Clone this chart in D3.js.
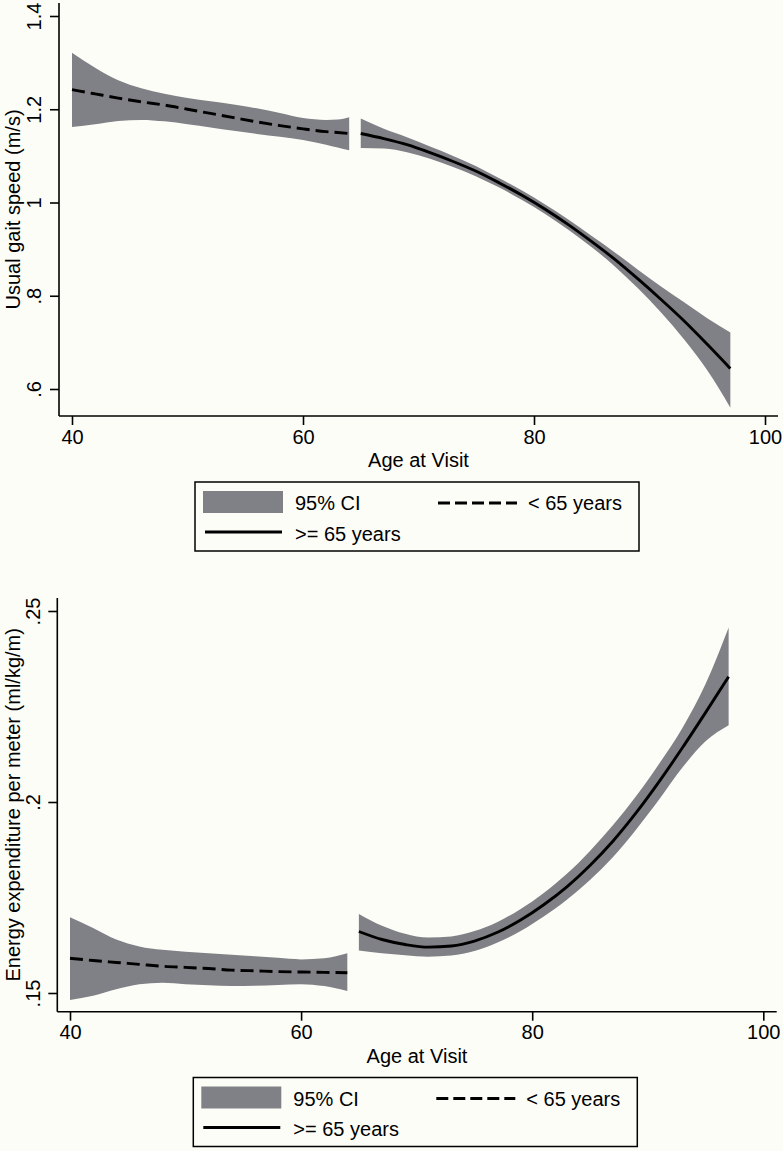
<!DOCTYPE html>
<html>
<head>
<meta charset="utf-8">
<script src="https://cdn.jsdelivr.net/npm/d3@7"></script>
<style>
  html, body { margin: 0; padding: 0; background: #fdfdf8; }
  svg { display: block; }
  text { font-family: "Liberation Sans", Arial, Helvetica, sans-serif; fill: #000; }
</style>
</head>
<body>
<svg id="chart" width="783" height="1151"></svg>
<script>
// ---------- Data ----------
const xTicks = [40, 60, 80, 100];
const xTickLabels = ["40", "60", "80", "100"];
const xTitle = "Age at Visit";

// Panel 1: usual gait speed
const gaitTitle = "Usual gait speed (m/s)";
const gaitYTicks = [0.6, 0.8, 1.0, 1.2, 1.4];
const gaitYTickLabels = [".6", ".8", "1", "1.2", "1.4"];

const gaitYoungAge   = [40, 42, 44, 46, 48, 50, 52, 54, 56, 58, 60, 62, 63, 64];
const gaitYoungFit   = [1.242, 1.233, 1.224, 1.216, 1.209, 1.200, 1.191, 1.182, 1.173, 1.165, 1.158, 1.152, 1.150, 1.148];
const gaitYoungUpper = [1.321, 1.289, 1.262, 1.245, 1.233, 1.224, 1.217, 1.210, 1.202, 1.192, 1.181, 1.177, 1.178, 1.183];
const gaitYoungLower = [1.162, 1.168, 1.175, 1.177, 1.174, 1.168, 1.161, 1.154, 1.147, 1.141, 1.134, 1.124, 1.118, 1.112];

const gaitOldAge   = [65, 67, 69, 71, 73, 75, 77, 79, 81, 83, 85, 87, 89, 91, 93, 95, 97];
const gaitOldFit   = [1.148, 1.137, 1.124, 1.107, 1.088, 1.067, 1.042, 1.015, 0.985, 0.952, 0.916, 0.878, 0.836, 0.792, 0.746, 0.696, 0.644];
const gaitOldUpper = [1.180, 1.158, 1.140, 1.120, 1.100, 1.078, 1.052, 1.025, 0.995, 0.963, 0.928, 0.893, 0.856, 0.820, 0.786, 0.752, 0.721];
const gaitOldLower = [1.117, 1.116, 1.108, 1.094, 1.076, 1.056, 1.032, 1.005, 0.975, 0.941, 0.904, 0.863, 0.816, 0.764, 0.706, 0.640, 0.560];

// Panel 2: energy expenditure per meter
const energyTitle = "Energy expenditure per meter (ml/kg/m)";
const energyYTicks = [0.15, 0.20, 0.25];
const energyYTickLabels = [".15", ".2", ".25"];

const energyYoungAge   = [40, 42, 44, 46, 48, 50, 52, 54, 56, 58, 60, 62, 64];
const energyYoungFit   = [0.1591, 0.1585, 0.1580, 0.1575, 0.1570, 0.1567, 0.1564, 0.1560, 0.1558, 0.1556, 0.1555, 0.1554, 0.1553];
const energyYoungUpper = [0.1698, 0.1670, 0.1640, 0.1622, 0.1613, 0.1608, 0.1604, 0.1600, 0.1596, 0.1592, 0.1588, 0.1591, 0.1604];
const energyYoungLower = [0.1482, 0.1493, 0.1510, 0.1523, 0.1527, 0.1523, 0.1520, 0.1518, 0.1519, 0.1521, 0.1523, 0.1518, 0.1505];

const energyOldAge   = [65, 67, 69, 71, 73, 75, 77, 79, 81, 83, 85, 87, 89, 91, 93, 95, 97];
const energyOldFit   = [0.1661, 0.1640, 0.1627, 0.1620, 0.1623, 0.1636, 0.1659, 0.1691, 0.1731, 0.1778, 0.1834, 0.1898, 0.1972, 0.2054, 0.2142, 0.2234, 0.2328];
const energyOldUpper = [0.1707, 0.1676, 0.1655, 0.1645, 0.1648, 0.1662, 0.1686, 0.1720, 0.1762, 0.1812, 0.1872, 0.1940, 0.2016, 0.2101, 0.2194, 0.2309, 0.2457];
const energyOldLower = [0.1611, 0.1604, 0.1599, 0.1595, 0.1598, 0.1610, 0.1632, 0.1662, 0.1700, 0.1744, 0.1796, 0.1856, 0.1928, 0.2007, 0.2090, 0.2159, 0.2201];

const legendLabels = ["95% CI", "< 65 years", ">= 65 years"];

// ---------- Drawing ----------
const BAND = "#808186";
const svg = d3.select("#chart");

function zip(age, fit, up, lo) {
  return age.map((a, i) => ({ a, f: fit[i], u: up[i], l: lo[i] }));
}

function drawPanel(p) {
  const g = svg.append("g");
  const x = d3.scaleLinear().domain([40, 100]).range(p.xRange);
  const y = d3.scaleLinear().domain(p.yDomain).range(p.yRange);

  const area = d3.area().x(d => x(d.a)).y0(d => y(d.l)).y1(d => y(d.u)).curve(d3.curveMonotoneX);
  const line = d3.line().x(d => x(d.a)).y(d => y(d.f)).curve(d3.curveMonotoneX);

  p.segments.forEach(s => {
    g.append("path").datum(s.data).attr("d", area).attr("fill", BAND).attr("stroke", "none");
  });
  p.segments.forEach(s => {
    g.append("path").datum(s.data).attr("d", line)
      .attr("fill", "none").attr("stroke", "#000").attr("stroke-width", 2.9)
      .attr("stroke-dasharray", s.dashed ? "13,6" : null);
  });

  // axis lines
  g.append("line").attr("x1", p.left).attr("x2", p.right).attr("y1", p.bottom).attr("y2", p.bottom)
    .attr("stroke", "#000").attr("stroke-width", 1.6);
  g.append("line").attr("x1", p.left).attr("x2", p.left).attr("y1", p.top).attr("y2", p.bottom)
    .attr("stroke", "#000").attr("stroke-width", 1.6);

  const xa = g.append("g").attr("transform", `translate(0,${p.bottom})`)
    .call(d3.axisBottom(x).tickValues(xTicks).tickFormat((d, i) => xTickLabels[i]).tickSize(9).tickPadding(8));
  xa.select(".domain").remove();
  xa.selectAll("line").attr("stroke", "#000").attr("stroke-width", 1.6);
  xa.selectAll("text").attr("font-size", 20).attr("dy", null).attr("y", p.xLabelOffset)
    .style("font-family", '"Liberation Sans", Arial, sans-serif');

  const ya = g.append("g").attr("transform", `translate(${p.left},0)`)
    .call(d3.axisLeft(y).tickValues(p.yTicks).tickFormat((d, i) => p.yTickLabels[i]).tickSize(9));
  ya.select(".domain").remove();
  ya.selectAll("line").attr("stroke", "#000").attr("stroke-width", 1.6);
  ya.selectAll("text")
    .attr("font-size", 20)
    .attr("x", null).attr("dy", null)
    .attr("text-anchor", "middle")
    .attr("transform", `translate(${p.yLabelX - p.left},0) rotate(-90)`)
    .style("font-family", '"Liberation Sans", Arial, sans-serif');

  g.append("text").attr("x", (p.left + p.right) / 2).attr("y", p.xTitleY)
    .attr("text-anchor", "middle").attr("font-size", 20).text(xTitle);
  g.append("text")
    .attr("transform", `translate(${p.yTitleX},${(p.top + p.bottom) / 2}) rotate(-90)`)
    .attr("text-anchor", "middle").attr("font-size", 20).text(p.yTitle);

  // legend
  const L = g.append("g").attr("transform", `translate(${p.legend[0]},${p.legend[1]})`);
  L.append("rect").attr("x", 0).attr("y", 0).attr("width", 444).attr("height", 69)
    .attr("fill", "#fdfdf8").attr("stroke", "#000").attr("stroke-width", 1.5);
  L.append("rect").attr("x", 8).attr("y", 9).attr("width", 80).attr("height", 22).attr("fill", BAND);
  L.append("text").attr("x", 100).attr("y", 28).attr("font-size", 20).text(legendLabels[0]);
  L.append("line").attr("x1", 243).attr("x2", 322).attr("y1", 21).attr("y2", 21)
    .attr("stroke", "#000").attr("stroke-width", 2.9).attr("stroke-dasharray", "12,5");
  L.append("text").attr("x", 333).attr("y", 28).attr("font-size", 20).text(legendLabels[1]);
  L.append("line").attr("x1", 10).attr("x2", 87).attr("y1", 50).attr("y2", 50)
    .attr("stroke", "#000").attr("stroke-width", 2.9);
  L.append("text").attr("x", 100).attr("y", 58.5).attr("font-size", 20).text(legendLabels[2]);
}

drawPanel({
  xRange: [72, 765], yDomain: [0.6, 1.4], yRange: [389, 16],
  left: 59, right: 778, top: 3, bottom: 416,
  xLabelOffset: 28, xTitleY: 467, yLabelX: 41, yTitleX: 20,
  yTicks: gaitYTicks, yTickLabels: gaitYTickLabels, yTitle: gaitTitle,
  legend: [195, 482],
  segments: [
    { data: zip(gaitYoungAge, gaitYoungFit, gaitYoungUpper, gaitYoungLower), dashed: true },
    { data: zip(gaitOldAge, gaitOldFit, gaitOldUpper, gaitOldLower), dashed: false }
  ]
});

drawPanel({
  xRange: [70, 763.3], yDomain: [0.15, 0.25], yRange: [993, 611],
  left: 57.3, right: 776.7, top: 598, bottom: 1011.7,
  xLabelOffset: 27.3, xTitleY: 1063, yLabelX: 40, yTitleX: 20,
  yTicks: energyYTicks, yTickLabels: energyYTickLabels, yTitle: energyTitle,
  legend: [193.3, 1077.5],
  segments: [
    { data: zip(energyYoungAge, energyYoungFit, energyYoungUpper, energyYoungLower), dashed: true },
    { data: zip(energyOldAge, energyOldFit, energyOldUpper, energyOldLower), dashed: false }
  ]
});
</script>
</body>
</html>
